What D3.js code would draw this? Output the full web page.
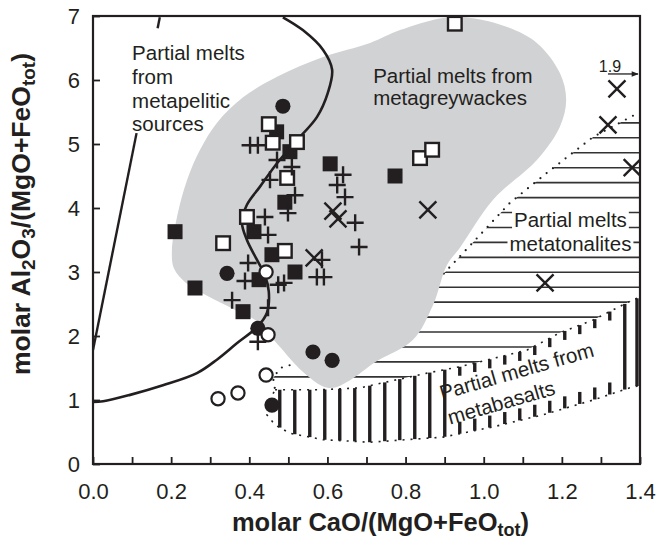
<!DOCTYPE html>
<html>
<head>
<meta charset="utf-8">
<script src="https://cdn.jsdelivr.net/npm/d3@7"></script>
<style>
  body { margin: 0; background: #fff; }
  svg { display: block; }
  text { font-family: "Liberation Sans", Arial, Helvetica, sans-serif; fill: #231f20; }
</style>
</head>
<body>
<svg id="chart" width="669" height="544"></svg>
<script>
// ---- sample compositions: [CaO/(MgO+FeOtot), Al2O3/(MgO+FeOtot)] (molar) ----
const filledSquares = [[0.21,3.63],[0.261,2.75],[0.384,2.38],[0.425,2.88],[0.412,3.63],[0.458,3.27],
  [0.517,3.0],[0.47,5.19],[0.504,4.88],[0.491,4.09],[0.607,4.69],[0.773,4.5]];
const openSquares = [[0.45,5.31],[0.46,5.02],[0.522,5.03],[0.497,4.47],[0.394,3.86],[0.333,3.45],
  [0.491,3.33],[0.837,4.78],[0.868,4.91],[0.926,6.88]];
const filledCircles = [[0.486,5.59],[0.343,2.98],[0.422,2.12],[0.563,1.75],[0.612,1.62],[0.458,0.92]];
const openCircles = [[0.443,3.0],[0.448,2.02],[0.443,1.39],[0.371,1.11],[0.32,1.02]];
const plusPoints = [[0.402,4.98],[0.422,4.98],[0.471,4.75],[0.509,4.64],[0.453,4.44],[0.517,4.2],
  [0.499,3.92],[0.44,3.86],[0.448,3.58],[0.64,4.52],[0.625,4.36],[0.645,4.17],[0.671,3.77],
  [0.681,3.39],[0.397,3.14],[0.389,2.86],[0.474,2.8],[0.489,2.83],[0.586,3.19],[0.573,2.92],
  [0.591,2.92],[0.356,2.56],[0.448,2.44],[0.422,1.91]];
const timesPoints = [[0.614,3.95],[0.627,3.83],[0.566,3.22],[0.857,3.97],[1.341,5.86],
  [1.318,5.3],[1.38,4.63],[1.157,2.83]];

// ---- experimental melt fields ----
const greywackeField = [[0.202,3.34],[0.207,3.06],[0.238,2.83],[0.292,2.63],[0.363,2.41],[0.422,2.22],
  [0.474,1.86],[0.537,1.44],[0.586,1.22],[0.614,1.19],[0.658,1.31],[0.722,1.59],[0.819,1.94],
  [0.87,2.48],[0.906,3.11],[0.939,3.38],[1.024,4.13],[1.136,4.75],[1.195,5.27],[1.211,5.69],
  [1.195,6.11],[1.136,6.58],[1.06,6.83],[0.965,6.97],[0.896,6.97],[0.786,6.78],[0.709,6.58],
  [0.589,6.36],[0.471,6.05],[0.384,5.73],[0.317,5.33],[0.274,4.91],[0.241,4.44],[0.215,3.86]];
const tonaliteEdge = [[1.4,5.5],[1.28,5.11],[1.162,4.55],[1.067,4.08],[0.983,3.53],[0.906,3.03],
  [0.837,2.56],[0.747,2.09],[0.632,1.75],[0.53,1.59],[0.479,1.5],[0.461,1.34],[0.466,1.16]];
const basaltTop = [[0.466,1.16],[0.581,1.16],[0.683,1.19],[0.855,1.42],[0.939,1.52],[1.111,1.78],
  [1.195,2.05],[1.28,2.25],[1.367,2.52],[1.4,2.61]];
const basaltBottom = [[1.4,1.23],[1.374,1.19],[1.28,1.0],[1.152,0.77],[1.024,0.58],[0.896,0.42],
  [0.709,0.34],[0.589,0.38],[0.504,0.48],[0.466,0.61],[0.445,0.77],[0.448,0.95]];
const pelitesBoundary = [[0.486,6.98],[0.537,6.78],[0.589,6.47],[0.612,6.16],[0.601,5.8],[0.573,5.42],
  [0.522,5.06],[0.471,4.7],[0.427,4.33],[0.394,4.05],[0.381,3.78],[0.394,3.5],[0.417,3.22],
  [0.44,2.95],[0.45,2.69],[0.445,2.36],[0.42,2.14],[0.369,1.89],[0.317,1.63],[0.266,1.42],
  [0.179,1.23],[0.095,1.08],[0.026,0.98],[0.0,0.97]];
const pelitesLine = [[0.0,1.78],[0.171,6.98]];

// ---- axes ----
const xTicks = [0,0.1,0.2,0.3,0.4,0.5,0.6,0.7,0.8,0.9,1.0,1.1,1.2,1.3,1.4];
const xTickLabels = ["0.0","","0.2","","0.4","","0.6","","0.8","","1.0","","1.2","","1.4"];
const yTicks = [0,1,2,3,4,5,6,7];
const yTickLabels = ["0","1","2","3","4","5","6","7"];

const fieldLabels = {
  pelite: ["Partial melts", "from", "metapelitic", "sources"],
  greywacke: ["Partial melts from", "metagreywackes"],
  tonalite: ["Partial melts", "metatonalites"],
  basalt: ["Partial melts from", "metabasalts"]
};
const offScaleLabel = "1.9";

const ink = "#231f20";
const grey = "#d1d2d4";

const svg = d3.select("#chart");
const x = d3.scaleLinear().domain([0, 1.4]).range([93, 640]);
const y = d3.scaleLinear().domain([0, 7]).range([464, 16]);
const P = d => [x(d[0]), y(d[1])];

const defs = svg.append("defs");
defs.append("clipPath").attr("id", "plotClip").append("rect")
  .attr("x", x(0)).attr("y", y(7)).attr("width", x(1.4) - x(0)).attr("height", y(0) - y(7));

const tonalitePoly = tonaliteEdge.concat(basaltTop.slice(1)).map(P);
const basaltPoly = basaltTop.concat(basaltBottom).map(P);

defs.append("clipPath").attr("id", "tonClip").append("path")
  .attr("d", "M" + tonalitePoly.join("L") + "Z");

const plot = svg.append("g").attr("clip-path", "url(#plotClip)");

// horizontal hatching of the metatonalite field
const tonHatch = plot.append("g").attr("clip-path", "url(#tonClip)");
d3.range(y(5.33), y(1.0), 14.94).forEach(py => {
  tonHatch.append("line").attr("x1", x(0.4)).attr("x2", x(1.4)).attr("y1", py).attr("y2", py)
    .attr("stroke", "#333").attr("stroke-width", 1.6);
});

// vertical span of a polygon at a given pixel x
function verticalSpan(poly, px) {
  const ys = [];
  for (let i = 0; i < poly.length; i++) {
    const a = poly[i], b = poly[(i + 1) % poly.length];
    if ((a[0] <= px && b[0] > px) || (b[0] <= px && a[0] > px)) {
      const t = (px - a[0]) / (b[0] - a[0]);
      ys.push(a[1] + t * (b[1] - a[1]));
    }
  }
  return ys.length >= 2 ? [d3.min(ys), d3.max(ys)] : null;
}

// vertical hatching of the metabasalt field, opened up around its label
const basHatch = plot.append("g");
const hatchXs = d3.range(x(0.478), x(1.4) - 4, 15).concat([x(1.4) - 3]);
hatchXs.forEach(px => {
  const s = verticalSpan(basaltPoly, px);
  if (!s) return;
  const segs = (px > 450 && px < 620) ? [[s[0], s[0] + 9], [s[1] - 12, s[1]]] : [[s[0], s[1]]];
  segs.forEach(g => basHatch.append("line").attr("x1", px).attr("x2", px)
    .attr("y1", g[0]).attr("y2", g[1]).attr("stroke", ink).attr("stroke-width", 3.4));
});

// dotted field limits
plot.append("path").attr("d", d3.line()(tonaliteEdge.map(P)))
  .attr("fill", "none").attr("stroke", ink).attr("stroke-width", 2.2)
  .attr("stroke-linecap", "round").attr("stroke-dasharray", "0,8");
plot.append("path").attr("d", "M" + basaltPoly.join("L") + "Z")
  .attr("fill", "none").attr("stroke", ink).attr("stroke-width", 1.6)
  .attr("stroke-dasharray", "2,6");

// metatonalite label on a white ground
const tonLabel = plot.append("g");
fieldLabels.tonalite.forEach((t, i) => {
  const tx = tonLabel.append("text").attr("x", x(1.222)).attr("y", y(3.7) + i * 24)
    .attr("text-anchor", "middle").attr("font-size", 20.5).text(t);
  const bb = tx.node().getBBox();
  tonLabel.insert("rect", "text").attr("x", bb.x - 2).attr("y", bb.y + 2)
    .attr("width", bb.width + 4).attr("height", bb.height - 2).attr("fill", "#fff");
});

// metabasalt label
const basLabel = plot.append("g")
  .attr("transform", `translate(${x(0.893)},${y(1.0)}) rotate(-16)`);
fieldLabels.basalt.forEach((t, i) => {
  basLabel.append("text").attr("x", i).attr("y", i * 26).attr("font-size", 20.5).text(t);
});

// metagreywacke field
plot.append("path")
  .attr("d", d3.line().curve(d3.curveCatmullRomClosed.alpha(0.5))(greywackeField.map(P)))
  .attr("fill", grey).attr("stroke", "none");
fieldLabels.greywacke.forEach((t, i) => {
  plot.append("text").attr("x", x(0.717)).attr("y", y(5.95) + i * 22)
    .attr("font-size", 20.5).text(t);
});

// metapelite limits
plot.append("path")
  .attr("d", d3.line().curve(d3.curveCatmullRom.alpha(0.5))(pelitesBoundary.map(P)))
  .attr("fill", "none").attr("stroke", ink).attr("stroke-width", 2.6);
const lp = pelitesLine.map(P);
const along = t => [lp[0][0] + t * (lp[1][0] - lp[0][0]), lp[0][1] + t * (lp[1][1] - lp[0][1])];
const tAt = v => (v - pelitesLine[0][1]) / (pelitesLine[1][1] - pelitesLine[0][1]);
[[0, tAt(5.17)], [tAt(6.81), 1]].forEach(r => {
  const a = along(r[0]), b = along(r[1]);
  plot.append("line").attr("x1", a[0]).attr("y1", a[1]).attr("x2", b[0]).attr("y2", b[1])
    .attr("stroke", ink).attr("stroke-width", 2.4);
});
fieldLabels.pelite.forEach((t, i) => {
  plot.append("text").attr("x", x(0.1)).attr("y", y(6.31) + i * 23.7)
    .attr("font-size", 20.5).text(t);
});

// ---- samples ----
const marks = plot.append("g");
marks.selectAll(".fsq").data(filledSquares).join("rect")
  .attr("x", d => x(d[0]) - 7.5).attr("y", d => y(d[1]) - 7.5)
  .attr("width", 15).attr("height", 15).attr("fill", ink);
marks.selectAll(".fc").data(filledCircles).join("circle")
  .attr("cx", d => x(d[0])).attr("cy", d => y(d[1])).attr("r", 7.6).attr("fill", ink);
marks.selectAll(".oc").data(openCircles).join("circle")
  .attr("cx", d => x(d[0])).attr("cy", d => y(d[1])).attr("r", 6.6)
  .attr("fill", "#fff").attr("stroke", ink).attr("stroke-width", 2.2);
marks.selectAll(".osq").data(openSquares).join("rect")
  .attr("x", d => x(d[0]) - 6.8).attr("y", d => y(d[1]) - 6.8)
  .attr("width", 13.6).attr("height", 13.6)
  .attr("fill", "#fff").attr("stroke", ink).attr("stroke-width", 2.4);
marks.selectAll(".pl").data(plusPoints).join("path")
  .attr("transform", d => `translate(${x(d[0])},${y(d[1])})`)
  .attr("d", "M-8.5,0H8.5M0,-8.5V8.5").attr("stroke", ink).attr("stroke-width", 2.4).attr("fill", "none");
marks.selectAll(".tm").data(timesPoints).join("path")
  .attr("transform", d => `translate(${x(d[0])},${y(d[1])})`)
  .attr("d", "M-8.5,-8.5L8.5,8.5M-8.5,8.5L8.5,-8.5").attr("stroke", ink).attr("stroke-width", 2.4).attr("fill", "none");

// off-scale sample marker
const os = timesPoints[4];
svg.append("text").attr("x", x(os[0]) - 7).attr("y", y(os[1]) - 17)
  .attr("text-anchor", "middle").attr("font-size", 16).text(offScaleLabel);
defs.append("marker").attr("id", "arrowHead").attr("viewBox", "0 0 10 10")
  .attr("refX", 9).attr("refY", 5).attr("markerWidth", 8).attr("markerHeight", 7)
  .attr("markerUnits", "userSpaceOnUse").attr("orient", "auto")
  .append("path").attr("d", "M0,1L10,5L0,9Z").attr("fill", ink);
svg.append("line").attr("x1", x(os[0]) - 9).attr("x2", x(1.4) - 2)
  .attr("y1", y(os[1]) - 15).attr("y2", y(os[1]) - 15)
  .attr("stroke", ink).attr("stroke-width", 1.3).attr("marker-end", "url(#arrowHead)");

// ---- frame and axes ----
svg.append("rect").attr("x", x(0)).attr("y", y(7)).attr("width", x(1.4) - x(0)).attr("height", y(0) - y(7))
  .attr("fill", "none").attr("stroke", ink).attr("stroke-width", 2.2);

const xAxis = d3.axisBottom(x).tickValues(xTicks).tickSizeInner(-7).tickSizeOuter(0).tickPadding(19)
  .tickFormat((d, i) => xTickLabels[i]);
const gx = svg.append("g").attr("transform", `translate(0,${y(0)})`).call(xAxis);
const yAxis = d3.axisLeft(y).tickValues(yTicks).tickSizeInner(-7).tickSizeOuter(0).tickPadding(13)
  .tickFormat((d, i) => yTickLabels[i]);
const gy = svg.append("g").attr("transform", `translate(${x(0)},0)`).call(yAxis);
[gx, gy].forEach(g => {
  g.select(".domain").remove();
  g.selectAll(".tick line").attr("stroke", ink).attr("stroke-width", 1.8);
  g.selectAll(".tick text").attr("font-size", 22).attr("fill", ink)
    .attr("font-family", "'Liberation Sans', Arial, sans-serif");
});

// axis titles
const xTitle = svg.append("text").attr("x", (x(0) + x(1.4)) / 2 + 14).attr("y", 531)
  .attr("text-anchor", "middle").attr("font-size", 25.5).attr("font-weight", "bold");
xTitle.append("tspan").text("molar CaO/(MgO+FeO");
xTitle.append("tspan").attr("font-size", 18).attr("dy", 5).text("tot");
xTitle.append("tspan").attr("dy", -5).text(")");

const yTitle = svg.append("text").attr("transform", `translate(30,${214}) rotate(-90)`)
  .attr("text-anchor", "middle").attr("font-size", 26.5).attr("font-weight", "bold");
yTitle.append("tspan").text("molar Al");
yTitle.append("tspan").attr("font-size", 19).attr("dy", 5).text("2");
yTitle.append("tspan").attr("dy", -5).text("O");
yTitle.append("tspan").attr("font-size", 19).attr("dy", 5).text("3");
yTitle.append("tspan").attr("dy", -5).text("/(MgO+FeO");
yTitle.append("tspan").attr("font-size", 19).attr("dy", 5).text("tot");
yTitle.append("tspan").attr("dy", -5).text(")");
</script>
</body>
</html>
